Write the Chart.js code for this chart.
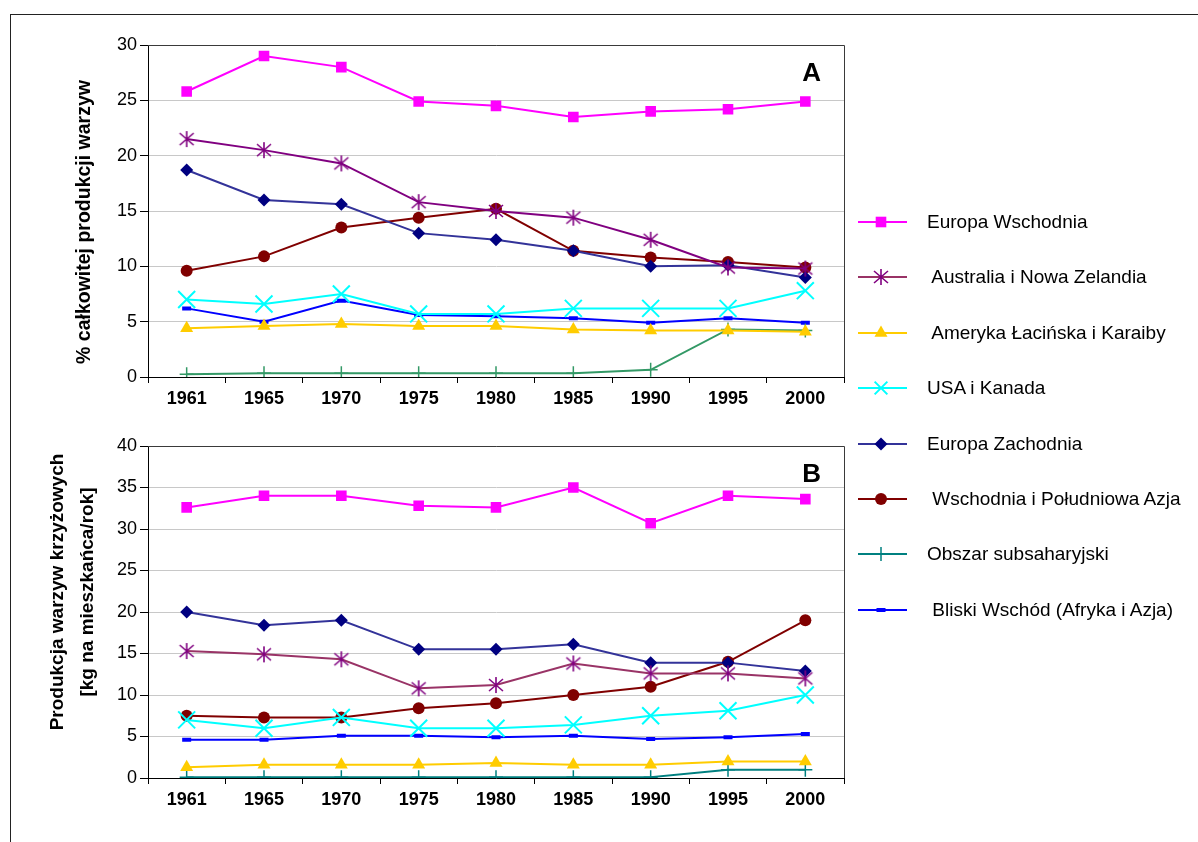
<!DOCTYPE html>
<html><head><meta charset="utf-8">
<script src="https://cdn.jsdelivr.net/npm/chart.js@4.4.1/dist/chart.umd.min.js"></script>
<style>
html,body{margin:0;padding:0;background:#fff;width:1198px;height:842px;overflow:hidden;font-family:"Liberation Sans",Arial,sans-serif;}
#frame{position:absolute;left:10px;top:14px;width:1188px;height:828px;border-top:1px solid #222;border-left:1px solid #222;box-sizing:border-box;}
#ca{position:absolute;left:0;top:0;}
#cb{position:absolute;left:0;top:420px;}
.lg{position:absolute;left:0;top:0;}
.lgc{position:absolute;}
.lgt{position:absolute;font-size:19px;color:#000;white-space:pre;line-height:30px;height:30px;}
</style></head>
<body>
<div id="frame"></div>
<canvas id="ca" width="860" height="420"></canvas>
<canvas id="cb" width="860" height="422"></canvas>
<div id="legend" class="lg"></div>
<script>
// ---- data ----
const years = ['1961','1965','1970','1975','1980','1985','1990','1995','2000'];
const seriesNames = ['Europa Wschodnia',' Australia i Nowa Zelandia',' Ameryka Łacińska i Karaiby','USA i Kanada','Europa Zachodnia',' Wschodnia i Południowa Azja','Obszar subsaharyjski',' Bliski Wschód (Afryka i Azja)'];
const axisTitleA = ['% całkowitej produkcji warzyw'];
const axisTitleB = ['Produkcja warzyw krzyżowych','[kg na mieszkańca/rok]'];
const yMaxA = 30, yMaxB = 40, yStep = 5;

// Panel A: % of total vegetable production
const A_europaWsch  = [25.8, 29.0, 28.0, 24.9, 24.5, 23.5, 24.0, 24.2, 24.9];
const A_australia   = [21.5, 20.5, 19.3, 15.8, 15.0, 14.4, 12.4, 9.9, 9.8];
const A_ameryka     = [4.4, 4.6, 4.8, 4.6, 4.6, 4.3, 4.2, 4.2, 4.1];
const A_usa         = [7.0, 6.6, 7.5, 5.7, 5.7, 6.2, 6.2, 6.2, 7.8];
const A_europaZach  = [18.7, 16.0, 15.6, 13.0, 12.4, 11.4, 10.0, 10.1, 9.0];
const A_azja        = [9.6, 10.9, 13.5, 14.4, 15.2, 11.4, 10.8, 10.4, 9.9];
const A_subsahara   = [0.25, 0.35, 0.35, 0.35, 0.35, 0.35, 0.65, 4.3, 4.2];
const A_bliski      = [6.2, 5.0, 6.9, 5.6, 5.5, 5.3, 4.9, 5.3, 4.9];

// Panel B: cruciferous vegetable production, kg per capita per year
const B_europaWsch  = [32.6, 34.0, 34.0, 32.8, 32.6, 35.0, 30.7, 34.0, 33.6];
const B_australia   = [15.3, 14.9, 14.3, 10.8, 11.2, 13.8, 12.6, 12.6, 12.0];
const B_ameryka     = [1.3, 1.6, 1.6, 1.6, 1.8, 1.6, 1.6, 2.0, 2.0];
const B_usa         = [7.0, 6.0, 7.3, 6.0, 6.0, 6.4, 7.5, 8.1, 10.0];
const B_europaZach  = [20.0, 18.4, 19.0, 15.5, 15.5, 16.1, 13.9, 13.9, 12.9];
const B_azja        = [7.5, 7.3, 7.3, 8.4, 9.0, 10.0, 11.0, 14.0, 19.0];
const B_subsahara   = [0.1, 0.1, 0.1, 0.1, 0.1, 0.1, 0.1, 1.0, 1.0];
const B_bliski      = [4.6, 4.6, 5.1, 5.1, 4.9, 5.1, 4.7, 4.9, 5.3];

// ---- styles ----
const FONT = '"Liberation Sans", Arial, sans-serif';
function makeAsterisk(color){
  const s = 18, c = document.createElement('canvas'); c.width = s; c.height = s;
  const g = c.getContext('2d'); g.strokeStyle = color; g.lineWidth = 1.6;
  const h = s/2; g.beginPath();
  g.moveTo(h, 1); g.lineTo(h, s-1);
  g.moveTo(h-7, h-6); g.lineTo(h+7, h+6);
  g.moveTo(h+7, h-6); g.lineTo(h-7, h+6);
  g.stroke(); return c;
}
const aster = makeAsterisk('#800080');
const styles = [
  {line:'#FF00FF', lineB:'#FF00FF', fill:'#FF00FF', ps:'rect', r:7.5, bw:0},
  {line:'#800080', lineB:'#993366', fill:'#800080', ps:aster, r:9, bw:0},
  {line:'#FFCC00', lineB:'#FFCC00', fill:'#FFCC00', ps:'triangle', r:7.5, bw:0},
  {line:'#00FFFF', lineB:'#00FFFF', fill:'#00FFFF', ps:'crossRot', r:12, bw:2},
  {line:'#333399', lineB:'#333399', fill:'#000080', ps:'rectRot', r:6.5, bw:0},
  {line:'#800000', lineB:'#800000', fill:'#800000', ps:'circle', r:6, bw:0},
  {line:'#339966', lineB:'#008080', fill:'#339966', fillB:'#008080', ps:'cross', r:7, bw:1.5},
  {line:'#0000FF', lineB:'#0000FF', fill:'#0000FF', ps:'line', r:4.5, bw:4}
];
const dataA = [A_europaWsch, A_australia, A_ameryka, A_usa, A_europaZach, A_azja, A_subsahara, A_bliski];
const dataB = [B_europaWsch, B_australia, B_ameryka, B_usa, B_europaZach, B_azja, B_subsahara, B_bliski];

function datasets(data, panelB){
  return data.map((d, i) => {
    const st = styles[i];
    const lc = panelB ? st.lineB : st.line;
    const fc = panelB && st.fillB ? st.fillB : st.fill;
    return {
      label: seriesNames[i], data: d,
      borderColor: lc, borderWidth: 2, tension: 0,
      pointStyle: st.ps, pointRadius: st.r, pointHoverRadius: st.r,
      pointBackgroundColor: fc, pointBorderColor: fc,
      pointBorderWidth: st.bw
    };
  });
}

const panelDecor = {
  id: 'panelDecor',
  afterDraw(chart, args, o){
    const {ctx, chartArea: a} = chart;
    ctx.save();
    ctx.strokeStyle = '#3a3a3a'; ctx.lineWidth = 1;
    ctx.beginPath();
    ctx.moveTo(a.left, Math.round(a.top)+0.5);
    ctx.lineTo(Math.round(a.right)+0.5, Math.round(a.top)+0.5);
    ctx.lineTo(Math.round(a.right)+0.5, a.bottom);
    ctx.stroke();
    ctx.fillStyle = '#000';
    ctx.font = 'bold 26px ' + FONT;
    ctx.textAlign = 'right'; ctx.textBaseline = 'alphabetic';
    ctx.fillText(o.letter, a.right - 23, a.top + 36);
    ctx.font = 'bold ' + o.titleSize + 'px ' + FONT;
    ctx.textAlign = 'center'; ctx.textBaseline = 'middle';
    ctx.translate(a.left - o.titleDx, (a.top + a.bottom)/2 + o.titleDy);
    ctx.rotate(-Math.PI/2);
    o.title.forEach((t, i) => ctx.fillText(t, 0, i * 30));
    ctx.restore();
  }
};

function options(maxY, padTop, xH, decor){
  return {
    responsive: false, animation: false, devicePixelRatio: 1,
    layout: {padding: {top: padTop, right: 16, left: 0, bottom: 0}},
    plugins: {legend: {display: false}, tooltip: {enabled: false}, panelDecor: decor},
    scales: {
      x: {
        type: 'category', offset: true,
        grid: {offset: true, drawOnChartArea: false, drawTicks: true, tickLength: 6, color: '#000'},
        border: {color: '#000', width: 1},
        ticks: {font: {family: FONT, size: 18, weight: 'bold'}, color: '#000', padding: 5, maxRotation: 0, autoSkip: false},
        afterFit(s){ s.height = xH; }
      },
      y: {
        min: 0, max: maxY,
        ticks: {stepSize: yStep, font: {family: FONT, size: 18}, color: '#000', padding: 3},
        grid: {color: '#C8C8C8', tickColor: '#000', tickLength: 8},
        border: {color: '#000', width: 1},
        afterFit(s){ s.width = 148; }
      }
    }
  };
}

new Chart(document.getElementById('ca'), {
  type: 'line',
  data: {labels: years, datasets: datasets(dataA, false)},
  options: options(yMaxA, 45, 43, {letter: 'A', title: axisTitleA, titleDx: 63, titleDy: 11, titleSize: 19.5}),
  plugins: [panelDecor]
});
new Chart(document.getElementById('cb'), {
  type: 'line',
  data: {labels: years, datasets: datasets(dataB, true)},
  options: options(yMaxB, 26, 64, {letter: 'B', title: axisTitleB, titleDx: 90, titleDy: -20, titleSize: 19}),
  plugins: [panelDecor]
});

// ---- legend ----
const legend = document.getElementById('legend');
const legendTop = 222, legendGap = 55.4;
seriesNames.forEach((name, i) => {
  const st = styles[i];
  const cy = legendTop + i * legendGap;
  const c = document.createElement('canvas');
  c.width = 56; c.height = 30; c.className = 'lgc';
  c.style.left = '855px'; c.style.top = (cy - 15) + 'px';
  legend.appendChild(c);
  const g = c.getContext('2d');
  g.strokeStyle = st.lineB; g.lineWidth = 2;
  g.beginPath(); g.moveTo(3, 15); g.lineTo(52, 15); g.stroke();
  const fc = st.fillB || st.fill;
  g.fillStyle = fc; g.strokeStyle = fc; g.lineWidth = st.bw;
  const ps = (i === 1) ? aster : st.ps;
  const r = Math.min(st.r, 9);
  if (Chart.helpers && Chart.helpers.drawPoint) {
    Chart.helpers.drawPoint(g, {pointStyle: ps, radius: r, borderWidth: st.bw, rotation: 0}, 26, 15);
  }
  const t = document.createElement('div');
  t.className = 'lgt'; t.textContent = name;
  t.style.left = '927px'; t.style.top = (cy - 15) + 'px';
  legend.appendChild(t);
});
</script>
</body></html>
